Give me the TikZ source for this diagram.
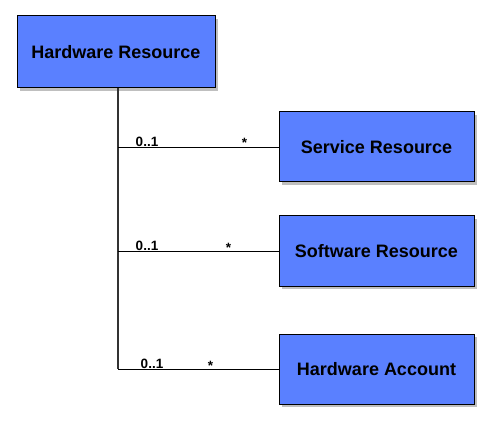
\documentclass[tikz,border=0pt]{standalone}
\usepackage{fontspec}
\setmainfont{Liberation Sans}
\usetikzlibrary{shadows}
\begin{document}
\begin{tikzpicture}[
        x=1pt, y=-1pt,
        class_box/.style={draw, line width=1pt, fill=boxblue, font=\fontsize{18}{20}\selectfont\bfseries,
            minimum width=195pt, minimum height=70pt, inner sep=0pt,
            drop shadow={shadow xshift=2.5pt, shadow yshift=-3pt, opacity=0.5}},
        class_top/.style={class_box, minimum width=198pt, minimum height=72pt},
        mult_label/.style={font=\fontsize{13.5}{15}\selectfont\bfseries, inner sep=0pt, anchor=base},
        link/.style={draw, line width=0.8pt}
        ]
    \definecolor{boxblue}{HTML}{5A80FF}
    \useasboundingbox (0,0) rectangle (494,427);
    \node[class_top] (hw_res) at (116,52) {Hardware Resource};
    \node[class_box] (svc_res) at (376.5,147) {Service Resource};
    \node[class_box] (sw_res) at (376.5,251) {Software Resource};
    \node[class_box] (hw_acc) at (376.5,369) {Hardware Account};
    \coordinate (trunk) at ([xshift=2pt]hw_res.south);
    % vertical trunk and the three links
    \draw[link, line width=1.4pt, black!80] (trunk) -- (trunk |- hw_acc.west);
    \draw[link] (trunk |- svc_res.west) -- (svc_res.west);
    \draw[link] (trunk |- sw_res.west) -- (sw_res.west);
    \draw[link] (trunk |- hw_acc.west) -- (hw_acc.west);
    % multiplicities
    \node[mult_label] (m_svc1) at ([xshift=29pt, yshift=0.5pt]trunk |- svc_res.west) {0..1};
    \node[mult_label] (m_svc2) at ([xshift=-34pt, yshift=-1pt]svc_res.west) {*};
    \node[mult_label] (m_sw1) at ([xshift=29pt, yshift=0.5pt]trunk |- sw_res.west) {0..1};
    \node[mult_label] (m_sw2) at ([xshift=-50pt, yshift=-1pt]sw_res.west) {*};
    \node[mult_label] (m_acc1) at ([xshift=34pt, yshift=0.5pt]trunk |- hw_acc.west) {0..1};
    \node[mult_label] (m_acc2) at ([xshift=-68pt, yshift=-1pt]hw_acc.west) {*};
\end{tikzpicture}
\end{document}
